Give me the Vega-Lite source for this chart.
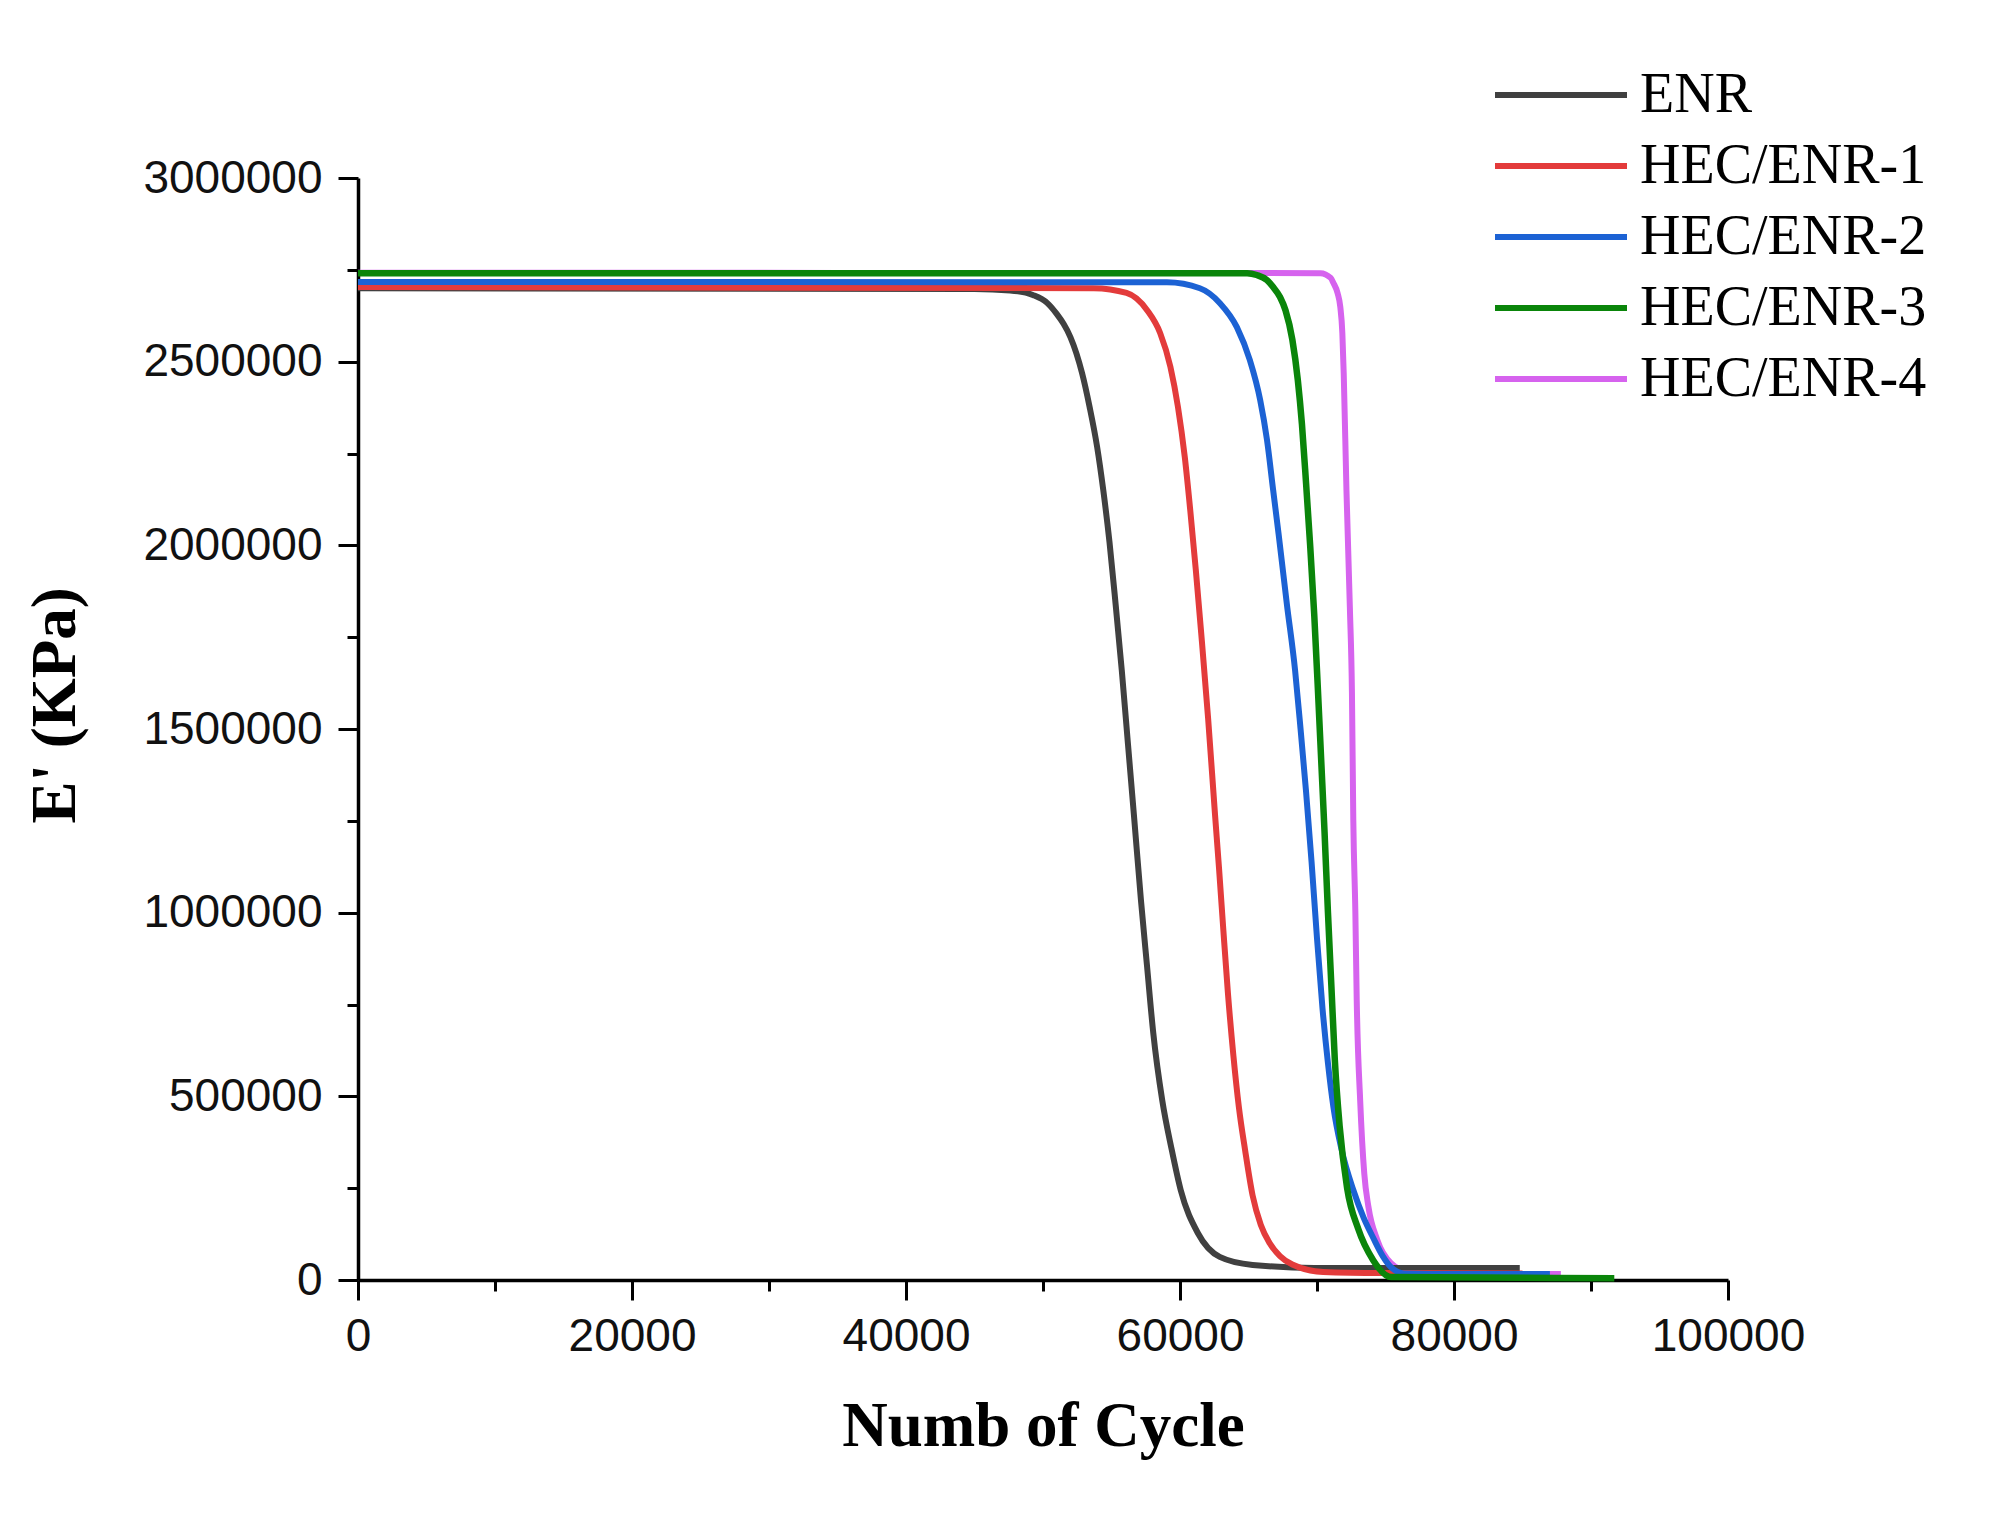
{
  "$schema": "https://vega.github.io/schema/vega-lite/v6.json",
  "width": 1370,
  "height": 1102,
  "autosize": {"type": "none"},
  "padding": {"left": 358, "top": 178, "right": 280, "bottom": 256},
  "background": "#ffffff",
  "config": {
    "view": {"stroke": null},
    "axis": {
      "domainColor": "#000000", "domainWidth": 3.5,
      "tickColor": "#000000", "tickWidth": 3,
      "grid": false,
      "labelFont": "Liberation Sans", "labelFontSize": 46, "labelColor": "#111111", "labelFlush": false,
      "titleFont": "Liberation Serif", "titleFontSize": 63, "titleFontWeight": "bold", "titleColor": "#000000"
    }
  },
  "data": {
    "values": [
      {"series": "ENR", "cycle": 0, "E": 2700000},
      {"series": "ENR", "cycle": 45000, "E": 2698000},
      {"series": "ENR", "cycle": 47600, "E": 2694000},
      {"series": "ENR", "cycle": 49300, "E": 2681000},
      {"series": "ENR", "cycle": 50300, "E": 2660000},
      {"series": "ENR", "cycle": 51000, "E": 2630000},
      {"series": "ENR", "cycle": 51500, "E": 2603000},
      {"series": "ENR", "cycle": 52000, "E": 2567000},
      {"series": "ENR", "cycle": 52850, "E": 2469000},
      {"series": "ENR", "cycle": 53400, "E": 2377000},
      {"series": "ENR", "cycle": 53950, "E": 2268000},
      {"series": "ENR", "cycle": 54400, "E": 2150000},
      {"series": "ENR", "cycle": 54850, "E": 2010000},
      {"series": "ENR", "cycle": 55300, "E": 1840000},
      {"series": "ENR", "cycle": 55750, "E": 1660000},
      {"series": "ENR", "cycle": 56200, "E": 1460000},
      {"series": "ENR", "cycle": 56650, "E": 1260000},
      {"series": "ENR", "cycle": 57150, "E": 1034000},
      {"series": "ENR", "cycle": 57600, "E": 852000},
      {"series": "ENR", "cycle": 58050, "E": 672000},
      {"series": "ENR", "cycle": 58700, "E": 490000},
      {"series": "ENR", "cycle": 59400, "E": 354000},
      {"series": "ENR", "cycle": 60050, "E": 245000},
      {"series": "ENR", "cycle": 61300, "E": 128000},
      {"series": "ENR", "cycle": 62900, "E": 63000},
      {"series": "ENR", "cycle": 65300, "E": 41000},
      {"series": "ENR", "cycle": 69800, "E": 33000},
      {"series": "ENR", "cycle": 84800, "E": 33000},

      {"series": "HEC/ENR-1", "cycle": 0, "E": 2703000},
      {"series": "HEC/ENR-1", "cycle": 53700, "E": 2700000},
      {"series": "HEC/ENR-1", "cycle": 56100, "E": 2687000},
      {"series": "HEC/ENR-1", "cycle": 57600, "E": 2640000},
      {"series": "HEC/ENR-1", "cycle": 58550, "E": 2578000},
      {"series": "HEC/ENR-1", "cycle": 59300, "E": 2486000},
      {"series": "HEC/ENR-1", "cycle": 59850, "E": 2377000},
      {"series": "HEC/ENR-1", "cycle": 60350, "E": 2240000},
      {"series": "HEC/ENR-1", "cycle": 60750, "E": 2095000},
      {"series": "HEC/ENR-1", "cycle": 61150, "E": 1935000},
      {"series": "HEC/ENR-1", "cycle": 61550, "E": 1760000},
      {"series": "HEC/ENR-1", "cycle": 62050, "E": 1530000},
      {"series": "HEC/ENR-1", "cycle": 62550, "E": 1270000},
      {"series": "HEC/ENR-1", "cycle": 62850, "E": 1120000},
      {"series": "HEC/ENR-1", "cycle": 63150, "E": 960000},
      {"series": "HEC/ENR-1", "cycle": 63500, "E": 780000},
      {"series": "HEC/ENR-1", "cycle": 63900, "E": 610000},
      {"series": "HEC/ENR-1", "cycle": 64300, "E": 470000},
      {"series": "HEC/ENR-1", "cycle": 64750, "E": 354000},
      {"series": "HEC/ENR-1", "cycle": 65300, "E": 230000},
      {"series": "HEC/ENR-1", "cycle": 65900, "E": 150000},
      {"series": "HEC/ENR-1", "cycle": 66550, "E": 100000},
      {"series": "HEC/ENR-1", "cycle": 67300, "E": 65000},
      {"series": "HEC/ENR-1", "cycle": 68200, "E": 42000},
      {"series": "HEC/ENR-1", "cycle": 70450, "E": 22000},
      {"series": "HEC/ENR-1", "cycle": 74750, "E": 19000},
      {"series": "HEC/ENR-1", "cycle": 85000, "E": 18000},

      {"series": "HEC/ENR-2", "cycle": 0, "E": 2717000},
      {"series": "HEC/ENR-2", "cycle": 59050, "E": 2716000},
      {"series": "HEC/ENR-2", "cycle": 61450, "E": 2700000},
      {"series": "HEC/ENR-2", "cycle": 62900, "E": 2660000},
      {"series": "HEC/ENR-2", "cycle": 64150, "E": 2594000},
      {"series": "HEC/ENR-2", "cycle": 65100, "E": 2504000},
      {"series": "HEC/ENR-2", "cycle": 65850, "E": 2396000},
      {"series": "HEC/ENR-2", "cycle": 66350, "E": 2287000},
      {"series": "HEC/ENR-2", "cycle": 66800, "E": 2150000},
      {"series": "HEC/ENR-2", "cycle": 67200, "E": 2030000},
      {"series": "HEC/ENR-2", "cycle": 67800, "E": 1840000},
      {"series": "HEC/ENR-2", "cycle": 68400, "E": 1660000},
      {"series": "HEC/ENR-2", "cycle": 68800, "E": 1500000},
      {"series": "HEC/ENR-2", "cycle": 69200, "E": 1330000},
      {"series": "HEC/ENR-2", "cycle": 69600, "E": 1140000},
      {"series": "HEC/ENR-2", "cycle": 70000, "E": 930000},
      {"series": "HEC/ENR-2", "cycle": 70400, "E": 740000},
      {"series": "HEC/ENR-2", "cycle": 70800, "E": 590000},
      {"series": "HEC/ENR-2", "cycle": 71200, "E": 470000},
      {"series": "HEC/ENR-2", "cycle": 71800, "E": 354000},
      {"series": "HEC/ENR-2", "cycle": 72650, "E": 245000},
      {"series": "HEC/ENR-2", "cycle": 73400, "E": 170000},
      {"series": "HEC/ENR-2", "cycle": 74100, "E": 115000},
      {"series": "HEC/ENR-2", "cycle": 74800, "E": 65000},
      {"series": "HEC/ENR-2", "cycle": 75400, "E": 35000},
      {"series": "HEC/ENR-2", "cycle": 76350, "E": 18000},
      {"series": "HEC/ENR-2", "cycle": 80000, "E": 16000},
      {"series": "HEC/ENR-2", "cycle": 87000, "E": 16000},

      {"series": "HEC/ENR-3", "cycle": 0, "E": 2741000},
      {"series": "HEC/ENR-3", "cycle": 64900, "E": 2741000},
      {"series": "HEC/ENR-3", "cycle": 65600, "E": 2736000},
      {"series": "HEC/ENR-3", "cycle": 66350, "E": 2722000},
      {"series": "HEC/ENR-3", "cycle": 66800, "E": 2703000},
      {"series": "HEC/ENR-3", "cycle": 67300, "E": 2676000},
      {"series": "HEC/ENR-3", "cycle": 67700, "E": 2640000},
      {"series": "HEC/ENR-3", "cycle": 68200, "E": 2560000},
      {"series": "HEC/ENR-3", "cycle": 68600, "E": 2450000},
      {"series": "HEC/ENR-3", "cycle": 68900, "E": 2330000},
      {"series": "HEC/ENR-3", "cycle": 69200, "E": 2170000},
      {"series": "HEC/ENR-3", "cycle": 69500, "E": 2000000},
      {"series": "HEC/ENR-3", "cycle": 69800, "E": 1810000},
      {"series": "HEC/ENR-3", "cycle": 70050, "E": 1620000},
      {"series": "HEC/ENR-3", "cycle": 70300, "E": 1420000},
      {"series": "HEC/ENR-3", "cycle": 70550, "E": 1220000},
      {"series": "HEC/ENR-3", "cycle": 70800, "E": 1000000},
      {"series": "HEC/ENR-3", "cycle": 71050, "E": 800000},
      {"series": "HEC/ENR-3", "cycle": 71300, "E": 600000},
      {"series": "HEC/ENR-3", "cycle": 71650, "E": 420000},
      {"series": "HEC/ENR-3", "cycle": 72200, "E": 250000},
      {"series": "HEC/ENR-3", "cycle": 73000, "E": 140000},
      {"series": "HEC/ENR-3", "cycle": 74100, "E": 54000},
      {"series": "HEC/ENR-3", "cycle": 75400, "E": 8000},
      {"series": "HEC/ENR-3", "cycle": 91700, "E": 5000},

      {"series": "HEC/ENR-4", "cycle": 0, "E": 2742000},
      {"series": "HEC/ENR-4", "cycle": 70250, "E": 2741000},
      {"series": "HEC/ENR-4", "cycle": 71000, "E": 2728000},
      {"series": "HEC/ENR-4", "cycle": 71200, "E": 2714000},
      {"series": "HEC/ENR-4", "cycle": 71500, "E": 2687000},
      {"series": "HEC/ENR-4", "cycle": 71700, "E": 2649000},
      {"series": "HEC/ENR-4", "cycle": 71850, "E": 2578000},
      {"series": "HEC/ENR-4", "cycle": 71950, "E": 2469000},
      {"series": "HEC/ENR-4", "cycle": 72150, "E": 2150000},
      {"series": "HEC/ENR-4", "cycle": 72400, "E": 1830000},
      {"series": "HEC/ENR-4", "cycle": 72550, "E": 1600000},
      {"series": "HEC/ENR-4", "cycle": 72650, "E": 1252000},
      {"series": "HEC/ENR-4", "cycle": 72800, "E": 1000000},
      {"series": "HEC/ENR-4", "cycle": 72900, "E": 762000},
      {"series": "HEC/ENR-4", "cycle": 73150, "E": 490000},
      {"series": "HEC/ENR-4", "cycle": 73450, "E": 290000},
      {"series": "HEC/ENR-4", "cycle": 73750, "E": 200000},
      {"series": "HEC/ENR-4", "cycle": 74400, "E": 109000},
      {"series": "HEC/ENR-4", "cycle": 75400, "E": 46000},
      {"series": "HEC/ENR-4", "cycle": 76700, "E": 22000},
      {"series": "HEC/ENR-4", "cycle": 80000, "E": 16000},
      {"series": "HEC/ENR-4", "cycle": 87800, "E": 16000}
    ]
  },
  "layer": [
    {
      "transform": [{"filter": "datum.series === 'HEC/ENR-4'"}],
      "mark": {"type": "line", "strokeWidth": 6, "interpolate": "monotone"},
      "encoding": {
        "x": {"field": "cycle", "type": "quantitative", "scale": {"domain": [0, 100000], "nice": false},
          "axis": {"orient": "bottom", "values": [0, 20000, 40000, 60000, 80000, 100000], "format": "d", "tickSize": 20, "labelPadding": 14, "title": "Numb of Cycle", "titlePadding": 36}},
        "y": {"field": "E", "type": "quantitative", "scale": {"domain": [0, 3000000], "nice": false},
          "axis": {"orient": "left", "values": [0, 500000, 1000000, 1500000, 2000000, 2500000, 3000000], "format": "d", "tickSize": 20, "labelPadding": 16, "title": "E' (KPa)", "titlePadding": 71, "titleY": 527}},
        "color": {"field": "series", "type": "nominal",
          "scale": {"domain": ["ENR", "HEC/ENR-1", "HEC/ENR-2", "HEC/ENR-3", "HEC/ENR-4"], "range": ["#404040", "#e33b3b", "#1c62d4", "#0a850a", "#d663ee"]},
          "legend": {"orient": "none", "legendX": 1175, "legendY": -111, "title": null, "padding": 0,
            "symbolType": "M-6,0H6", "symbolSize": 484, "symbolStrokeWidth": 6, "labelOffset": 51,
            "labelFont": "Liberation Serif", "labelFontSize": 56, "labelColor": "#000000", "rowPadding": 15, "labelLimit": 600}}
      }
    },
    {
      "transform": [{"filter": "datum.series === 'ENR'"}],
      "mark": {"type": "line", "strokeWidth": 6, "interpolate": "monotone"},
      "encoding": {
        "x": {"field": "cycle", "type": "quantitative", "axis": null},
        "y": {"field": "E", "type": "quantitative", "axis": null},
        "color": {"field": "series", "type": "nominal"}
      }
    },
    {
      "transform": [{"filter": "datum.series === 'HEC/ENR-1'"}],
      "mark": {"type": "line", "strokeWidth": 6, "interpolate": "monotone"},
      "encoding": {
        "x": {"field": "cycle", "type": "quantitative", "axis": null},
        "y": {"field": "E", "type": "quantitative", "axis": null},
        "color": {"field": "series", "type": "nominal"}
      }
    },
    {
      "transform": [{"filter": "datum.series === 'HEC/ENR-2'"}],
      "mark": {"type": "line", "strokeWidth": 6, "interpolate": "monotone"},
      "encoding": {
        "x": {"field": "cycle", "type": "quantitative", "axis": null},
        "y": {"field": "E", "type": "quantitative", "axis": null},
        "color": {"field": "series", "type": "nominal"}
      }
    },
    {
      "transform": [{"filter": "datum.series === 'HEC/ENR-3'"}],
      "mark": {"type": "line", "strokeWidth": 6.5, "interpolate": "monotone"},
      "encoding": {
        "x": {"field": "cycle", "type": "quantitative", "axis": null},
        "y": {"field": "E", "type": "quantitative", "axis": null},
        "color": {"field": "series", "type": "nominal"}
      }
    },
    {
      "transform": [{"filter": "datum.series === 'ENR'"}],
      "mark": {"type": "line", "strokeOpacity": 0},
      "encoding": {
        "x": {"field": "cycle", "type": "quantitative",
          "axis": {"orient": "bottom", "values": [10000, 30000, 50000, 70000, 90000], "labels": false, "domain": false, "tickSize": 11, "title": null}},
        "y": {"field": "E", "type": "quantitative",
          "axis": {"orient": "left", "values": [250000, 750000, 1250000, 1750000, 2250000, 2750000], "labels": false, "domain": false, "tickSize": 11, "title": null}}
      }
    }
  ],
  "resolve": {"axis": {"x": "independent", "y": "independent"}}
}
